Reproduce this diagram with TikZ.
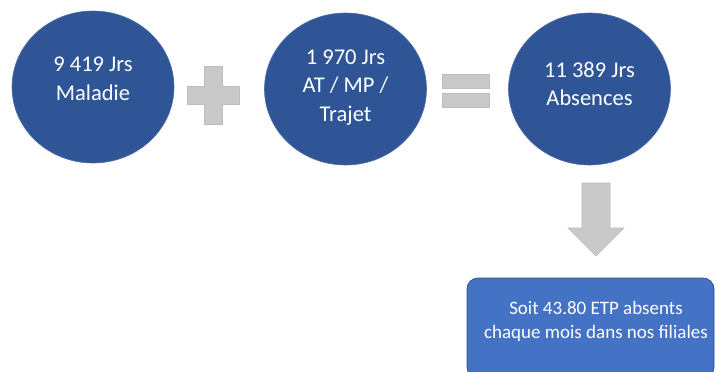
\documentclass[tikz,border=0pt]{standalone}
\usepackage{fontspec}
\setmainfont{Carlito}
\usetikzlibrary{shapes.geometric}
\definecolor{circblue}{HTML}{2F5597}
\definecolor{boxblue}{HTML}{4472C4}
\definecolor{boxedge}{HTML}{2F528F}
\definecolor{opgray}{HTML}{C9C9C9}
\definecolor{opedge}{HTML}{BDBDBD}
\tikzset{
  bigcirc/.style={ellipse, fill=circblue, draw=circblue!85!white, line width=0.6pt, minimum width=162pt, minimum height=152pt, inner sep=0pt},
  circtext/.style={text=white, align=center, font=\fontsize{22.5}{28.5}\selectfont},
  resbox/.style={fill=boxblue, draw=boxedge, line width=0.8pt, rounded corners=11pt},
  restext/.style={text=white, align=center, font=\fontsize{19}{24}\selectfont},
  opshape/.style={fill=opgray, draw=opedge, line width=0.6pt}
}
\begin{document}
\begin{tikzpicture}[x=1pt,y=-1pt]
\useasboundingbox (0,0) rectangle (716,372);
\fill[white] (0,0) rectangle (716,372);
% circles
\node[bigcirc] (c1) at (93,87) {};
\node[circtext] (t1) at (93,79) {9 419 Jrs\\Maladie};
\node[bigcirc] (c2) at (345.5,89) {};
\node[circtext] (t2) at (345.5,87.5) {1 970 Jrs\\AT / MP /\\Trajet};
\node[bigcirc] (c3) at (589.5,89) {};
\node[circtext] (t3) at (589.5,84) {11 389 Jrs\\Absences};
% plus
\draw[opshape] (204,66) -- (222,66) -- (222,86) -- (239,86) -- (239,104) -- (222,104) -- (222,124) -- (204,124) -- (204,104) -- (187,104) -- (187,86) -- (204,86) -- cycle;
% equals
\draw[opshape] (442,74) rectangle (489,88);
\draw[opshape] (442,93) rectangle (489,107);
% down arrow
\draw[opshape] (582,183) -- (610,183) -- (610,228) -- (624,228) -- (596,256) -- (568,228) -- (582,228) -- cycle;
% result box
\draw[resbox] (467,278) rectangle (714,378);
\node[restext] (t4) at (596,321.5) {Soit 43.80 ETP absents\\chaque mois dans nos filiales};
\end{tikzpicture}
\end{document}
